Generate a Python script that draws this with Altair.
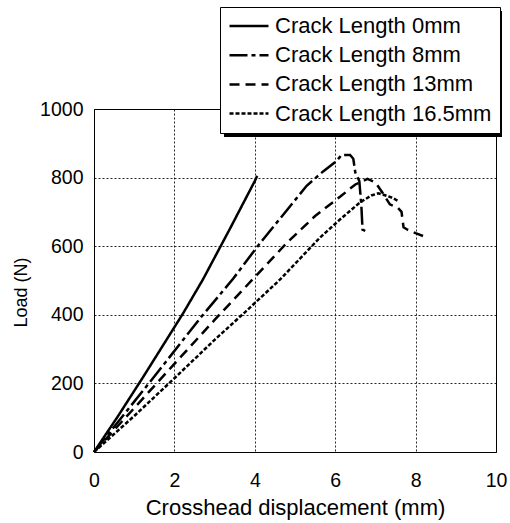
import altair as alt
import pandas as pd

series_names = ["Crack Length 0mm", "Crack Length 8mm", "Crack Length 13mm", "Crack Length 16.5mm"]
dash_patterns = [[1, 0], [18, 4, 4, 4], [10, 6], [4, 2]]

x_0mm = [0, 0.6, 1.23, 2.22, 2.71, 3.4, 4.0, 4.06]
y_0mm = [0, 105, 220, 405, 503, 655, 790, 805]

x_8mm = [0, 0.6, 1.5, 2.64, 3.46, 4.09, 5.29, 5.7, 6.01, 6.16, 6.37, 6.45, 6.5, 6.6, 6.65, 6.68, 6.78]
y_8mm = [0, 88, 220, 390, 505, 603, 776, 818, 846, 866, 866, 855, 815, 790, 720, 648, 643]

x_13mm = [0, 1.0, 2.0, 3.0, 4.0, 4.8, 5.5, 6.12, 6.5, 6.8, 7.0, 7.2, 7.36, 7.56, 7.65, 7.7, 7.8, 8.0, 8.27]
y_13mm = [0, 128, 257, 385, 510, 610, 688, 744, 780, 796, 786, 752, 722, 712, 700, 655, 648, 638, 626]

x_165mm = [0, 1.0, 2.0, 3.0, 3.76, 4.63, 5.62, 6.12, 6.62, 6.9, 7.07, 7.2, 7.4, 7.55]
y_165mm = [0, 105, 215, 327, 408, 503, 625, 678, 728, 748, 754, 750, 742, 733]

x_ticks = [0, 2, 4, 6, 8, 10]
y_ticks = [0, 200, 400, 600, 800, 1000]

rows = []
for name, xs, ys in zip(series_names, [x_0mm, x_8mm, x_13mm, x_165mm], [y_0mm, y_8mm, y_13mm, y_165mm]):
    for i, (xv, yv) in enumerate(zip(xs, ys)):
        rows.append({"series": name, "disp": xv, "load": yv, "idx": i})
df = pd.DataFrame(rows)

FONT = "Liberation Sans"

lines = alt.Chart(df).mark_line(strokeWidth=2.5, color="black").encode(
    x=alt.X("disp:Q", scale=alt.Scale(domain=[0, 10], nice=False),
            axis=alt.Axis(values=x_ticks, title="Crosshead displacement (mm)",
                          labelFontSize=19.5, titleFontSize=22, labelPadding=19,
                          labelFlush=False,
                          titleY=62, titleBaseline="alphabetic")),
    y=alt.Y("load:Q", scale=alt.Scale(domain=[0, 1000], nice=False),
            axis=alt.Axis(values=y_ticks, title="Load (N)", format="d",
                          labelFontSize=19.5, titleFontSize=18, labelPadding=11,
                          labelFlush=False,
                          titleX=-73, titleY=183, titleBaseline="middle")),
    strokeDash=alt.StrokeDash("series:N", scale=alt.Scale(domain=series_names, range=dash_patterns),
                              legend=alt.Legend(orient="none", legendX=126, legendY=-102, title=None,
                                                strokeColor="black", fillColor="white", padding=8,
                                                labelFontSize=22, labelFont=FONT, labelColor="black",
                                                labelLimit=0, clipHeight=22,
                                                symbolType="stroke", symbolSize=1521,
                                                symbolStrokeWidth=2.5, symbolStrokeColor="black",
                                                labelOffset=5, rowPadding=7.2)),
    order="idx:Q",
)

shadow = alt.Chart(alt.Data(values=[{"a": 1}])).mark_rect(color="black").encode(
    x=alt.value(130), x2=alt.value(408), y=alt.value(-98), y2=alt.value(28)
)

chart = alt.layer(shadow, lines).properties(
    width=402, height=343,
    autosize=alt.AutoSizeParams(type="none"),
    padding={"left": 94, "top": 109, "right": 14, "bottom": 71},
).configure_view(stroke="black", strokeWidth=1).configure_axis(
    grid=True, gridDash=[2, 2], gridColor="black", gridOpacity=0.85, gridWidth=1,
    domain=False, ticks=False, tickSize=0,
    labelFont=FONT, titleFont=FONT, labelColor="black", titleColor="black",
    titleFontWeight="normal",
)

chart.save("out.html", embed_options={"renderer": "svg", "actions": False})
